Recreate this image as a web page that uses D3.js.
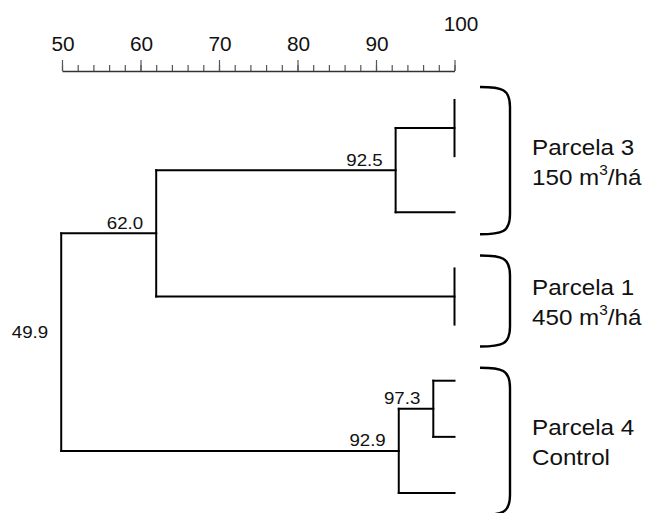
<!DOCTYPE html>
<html>
<head>
<meta charset="utf-8">
<script src="https://cdn.jsdelivr.net/npm/d3@7"></script>
<style>
  html, body { margin: 0; padding: 0; background: #fff; }
  svg { display: block; }
  text { font-family: "Liberation Sans", Arial, sans-serif; fill: #111; }
</style>
</head>
<body>
<svg id="chart" width="646" height="513"></svg>
<script>
// ---------------- DATA ----------------
const axisMajorTicks = [50, 60, 70, 80, 90, 100];
const axisMinorTicks = d3.range(50, 101, 2);

const leaves = ["P3a", "P3b", "P3c", "P1a", "P1b", "P4a", "P4b", "P4c"];

// merges: id, children, similarity level (%), shown label
const mergeIds      = ["m1", "m2", "m3", "m4", "m5", "m6", "root"];
const mergeChildren = [["P3a","P3b"], ["m1","P3c"], ["P1a","P1b"], ["m2","m3"], ["P4a","P4b"], ["m5","P4c"], ["m4","m6"]];
const mergeLevels   = [100, 92.5, 100, 62.0, 97.3, 92.9, 49.9];
const mergeLabels   = ["", "92.5", "", "62.0", "97.3", "92.9", "49.9"];

const groupLine1   = ["Parcela 3", "Parcela 1", "Parcela 4"];
const groupLine2   = [["150 m", "3", "/há"], ["450 m", "3", "/há"], ["Control", "", ""]];
const groupLeafIdx = [[0, 2], [3, 4], [5, 7]];

// ---------------- LAYOUT ----------------
const svg = d3.select("#chart");

const x = d3.scaleLinear().domain([50, 100]).range([62, 454.5]);
const y = d3.scaleLinear().domain([0, leaves.length - 1]).range([100, 493]);

// ---- top scale axis ----
const axisY = 71;
const axG = svg.append("g").attr("transform", `translate(0,${axisY})`);
axG.append("g")
  .call(d3.axisTop(x).tickValues(axisMinorTicks).tickSize(6).tickSizeOuter(0).tickFormat(""))
  .call(g => g.select(".domain").attr("stroke", "#333").attr("stroke-width", 1.3))
  .call(g => g.selectAll(".tick line").attr("stroke", "#555").attr("stroke-width", 1.2));
axG.append("g")
  .call(d3.axisTop(x).tickValues(axisMajorTicks).tickSize(11).tickSizeOuter(0).tickFormat(""))
  .call(g => g.select(".domain").remove())
  .call(g => g.selectAll(".tick line").attr("stroke", "#555").attr("stroke-width", 1.2));

svg.append("g").selectAll("text")
  .data(axisMajorTicks)
  .join("text")
  .attr("transform", d => {
    const last = d === d3.max(axisMajorTicks);
    return `translate(${x(d) + (last ? 6.5 : 1)},${last ? 31 : 50.5}) scale(1.04,1)`;
  })
  .attr("text-anchor", "middle")
  .attr("font-size", 20)
  .text(d => d);

// ---- build hierarchy ----
const nodeMap = new Map();
leaves.forEach((id, i) => nodeMap.set(id, { id, leafIndex: i, level: 100, children: null }));
mergeIds.forEach((id, i) => nodeMap.set(id, {
  id, level: mergeLevels[i], label: mergeLabels[i],
  children: mergeChildren[i].map(c => nodeMap.get(c))
}));
const root = d3.hierarchy(nodeMap.get("root"));
root.eachAfter(n => {
  n.px = x(n.data.level);
  n.py = n.children ? d3.mean(n.children, c => c.py) : y(n.data.leafIndex);
});

// ---- dendrogram lines ----
const lineG = svg.append("g").attr("stroke", "#000").attr("stroke-width", 2).attr("fill", "none")
  .attr("stroke-linecap", "square");
const internals = root.descendants().filter(n => n.children);
internals.forEach(n => {
  const ys = n.children.map(c => c.py);
  lineG.append("line").attr("x1", n.px).attr("x2", n.px)
    .attr("y1", d3.min(ys)).attr("y2", d3.max(ys));
  n.children.forEach(c => {
    if (c.px > n.px) {
      lineG.append("line").attr("x1", n.px).attr("x2", c.px)
        .attr("y1", c.py).attr("y2", c.py);
    }
  });
});

// ---- node labels ----
svg.append("g").selectAll("text")
  .data(internals.filter(n => n.data.label))
  .join("text")
  .attr("transform", n => `translate(${n.px - 13},${n.py - 4.5}) scale(1.1,1)`)
  .attr("text-anchor", "end")
  .attr("font-size", 17)
  .text(n => n.data.label);

// ---- brackets & group labels ----
const brG = svg.append("g");
groupLine1.forEach((t, i) => {
  const [a, b] = groupLeafIdx[i];
  const top = y(a) - 13, bot = y(b) + 22;
  const xl = 480, xr = 510;
  brG.append("path")
    .attr("d", `M${xl},${top} C${xl + 22},${top} ${xr},${top + 2} ${xr},${top + 20} L${xr},${bot - 20} C${xr},${bot - 2} ${xl + 22},${bot} ${xl},${bot}`)
    .attr("fill", "none").attr("stroke", "#000").attr("stroke-width", 2.4);

  const cy = (y(a) + y(b)) / 2;
  brG.append("text")
    .attr("transform", `translate(532,${cy - 1.5}) scale(1.1,1)`)
    .attr("font-size", 22)
    .text(t);
  const l2 = brG.append("text")
    .attr("transform", `translate(532,${cy + 28.5}) scale(1.1,1)`)
    .attr("font-size", 22);
  const parts = groupLine2[i];
  l2.append("tspan").text(parts[0]);
  if (parts[1]) {
    l2.append("tspan").attr("font-size", 14).attr("dy", -10).text(parts[1]);
    l2.append("tspan").attr("dy", 10).text(parts[2]);
  }
});
</script>
</body>
</html>
